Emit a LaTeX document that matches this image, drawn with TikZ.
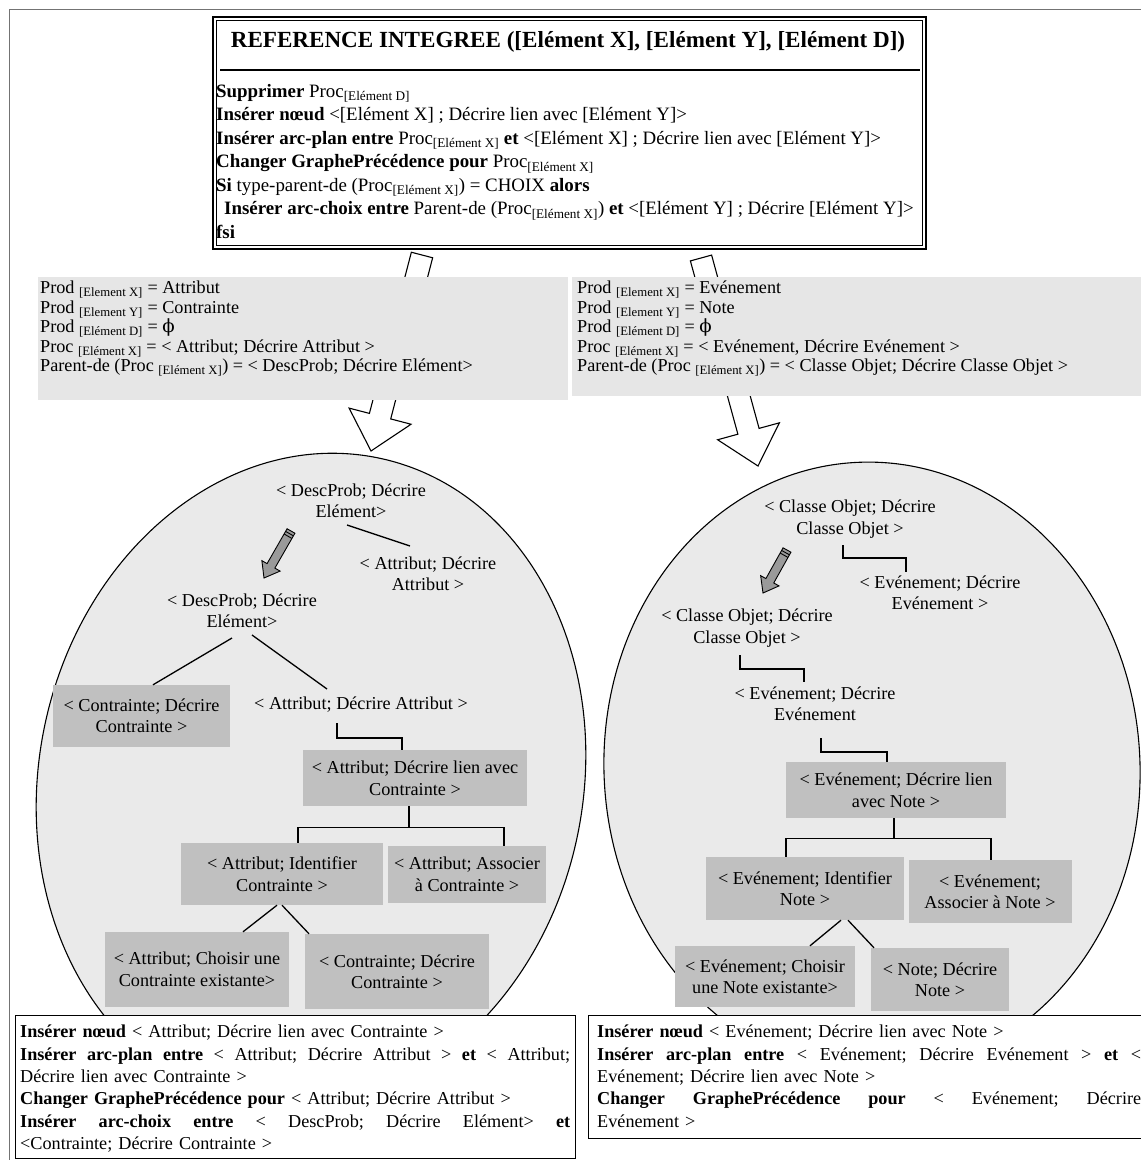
\documentclass[tikz,border=0pt]{standalone}
\usepackage{fontspec}
\setmainfont{Liberation Serif}
\newfontfamily\phifont{DejaVu Serif}
\usetikzlibrary{calc}
\definecolor{ellgray}{HTML}{EAEAEA}
\definecolor{descgray}{HTML}{E6E6E6}
\definecolor{boxgray}{HTML}{C0C0C0}
\definecolor{pencilgray}{HTML}{9A9A9A}
\newcommand\sbs[1]{\textsubscript{#1}}
\newcommand\phisym{{\phifont ϕ}}
\newcommand\jline[2]{\leavevmode\hbox to #1{#2}}
\newcommand\hollowarrow[2]{%
  \coordinate (hh) at ($(#2)!36pt!(#1)$);
  \draw[line width=1.1, fill=white, line join=miter]
    ($(#1)!11pt!90:(#2)$) -- ($(hh)!11pt!90:(#2)$) -- ($(hh)!32pt!90:(#2)$) -- (#2)
    -- ($(hh)!32pt!-90:(#2)$) -- ($(hh)!11pt!-90:(#2)$) -- ($(#1)!11pt!-90:(#2)$) -- cycle;}
\newcommand\pencilarrow[2]{%
  \coordinate (ph) at ($(#2)!14pt!(#1)$);
  \draw[line width=0.9, fill=pencilgray, line join=miter]
    ($(#1)!4.5pt!90:(#2)$) -- ($(ph)!4.5pt!90:(#2)$) -- ($(ph)!10.5pt!90:(#2)$) -- (#2)
    -- ($(ph)!10.5pt!-90:(#2)$) -- ($(ph)!4.5pt!-90:(#2)$) -- ($(#1)!4.5pt!-90:(#2)$) -- cycle;
  \coordinate (ps1) at ($(#1)!3pt!(#2)$);
  \coordinate (ps2) at ($(#1)!6pt!(#2)$);
  \draw[line width=0.9] ($(ps1)!4.5pt!90:(#2)$) -- ($(ps1)!4.5pt!-90:(#2)$);
  \draw[line width=0.9] ($(ps2)!4.5pt!90:(#2)$) -- ($(ps2)!4.5pt!-90:(#2)$);}
\begin{document}
\begin{tikzpicture}[x=1pt, y=1pt,
  font=\fontsize{18.2}{21.5}\selectfont,
  tl/.style={align=center, inner sep=0pt},
  tb/.style={fill=boxgray, align=center, inner sep=0pt},
  conn/.style={line width=1.3, line join=miter}]
\useasboundingbox (0,0) rectangle (1141,-1160);
\clip (0,0) rectangle (1141,-1160);

% outer frame
\draw[line width=1, black!55] (9,-1170) -- (9,-9) -- (1150,-9);

% big hollow arrows (behind the boxes)
\coordinate (T1) at (422,-255); \coordinate (P1) at (371,-451);
\coordinate (T2) at (701,-258); \coordinate (P2) at (758,-466);
\hollowarrow{T1}{P1}
\hollowarrow{T2}{P2}

% description boxes
\node[fill=descgray, minimum width=530, minimum height=123, anchor=north west, inner sep=0] (dl) at (38,-277) {};
\node[anchor=north west, align=left, inner sep=0, font=\fontsize{18.2}{19.5}\selectfont] (dlt) at (40,-281) {%
Prod \sbs{[Element X]} = Attribut\\
Prod \sbs{[Element Y]} = Contrainte\\
Prod \sbs{[Elément D]} = \phisym\\
Proc \sbs{[Elément X]} = < Attribut; Décrire Attribut >\\
Parent-de (Proc \sbs{[Elément X]}) = < DescProb; Décrire Elément>};
\node[fill=descgray, minimum width=580, minimum height=119, anchor=north west, inner sep=0] (dr) at (572,-277) {};
\node[anchor=north west, align=left, inner sep=0, font=\fontsize{18.2}{19.5}\selectfont] (drt) at (577,-281) {%
Prod \sbs{[Element X]} = Evénement\\
Prod \sbs{[Element Y]} = Note\\
Prod \sbs{[Elément D]} = \phisym\\
Proc \sbs{[Elément X]} = < Evénement, Décrire Evénement >\\
Parent-de (Proc \sbs{[Elément X]}) = < Classe Objet; Décrire Classe Objet >};

% top box
\node[draw, line width=2.2, fill=white, minimum width=713, minimum height=232, anchor=north west, inner sep=0] (top) at (212,-16) {};
\draw[line width=1.1] ($(top.north west)+(4.5,-4.5)$) rectangle ($(top.south east)+(-4.5,4.5)$);
\node[font=\fontsize{23.1}{26}\selectfont\bfseries, inner sep=0] (title) at (568,-42) {REFERENCE INTEGREE ([Elément X], [Elément Y], [Elément D])};
\draw[line width=1.1] ($(top.north west)+(8,-54)$) -- ($(top.north east)+(-7,-54)$);
\node[anchor=north west, align=left, inner sep=0, font=\fontsize{18.9}{23.5}\selectfont] (topbody) at (216,-84) {%
\textbf{Supprimer} Proc\sbs{[Elément D]}\\
\textbf{Insérer nœud} <[Elément X] ; Décrire lien avec [Elément Y]>\\
\textbf{Insérer arc-plan entre} Proc\sbs{[Elément X]} \textbf{et} <[Elément X] ; Décrire lien avec [Elément Y]>\\
\textbf{Changer GraphePrécédence pour} Proc\sbs{[Elément X]}\\
\textbf{Si} type-parent-de (Proc\sbs{[Elément X]}) = CHOIX \textbf{alors}\\
\hspace*{8pt}\textbf{Insérer arc-choix entre} Parent-de (Proc\sbs{[Elément X]}) \textbf{et} <[Elément Y] ; Décrire [Elément Y]>\\
\textbf{fsi}};

% ellipses
\draw[fill=ellgray, line width=1.1, rotate around={-12:(311,-781)}] (311,-781) ellipse [x radius=272pt, y radius=330pt];
\draw[fill=ellgray, line width=1.1, rotate around={3:(872,-768)}] (872,-768) ellipse [x radius=268pt, y radius=306pt];

% left tree
\node[tl] (N1) at (351,-501) {< DescProb; Décrire\\Elément>};
\node[tl] (N2) at (428,-574) {< Attribut; Décrire\\Attribut >};
\node[tl] (N3) at (242,-611) {< DescProb; Décrire\\Elément>};
\node[tl] (N4) at (361,-705) {< Attribut; Décrire Attribut >};
\node[tb, minimum width=177, minimum height=62] (B1) at (141.5,-716) {< Contrainte; Décrire\\Contrainte >};
\node[tb, minimum width=224, minimum height=56] (B2) at (415,-778) {< Attribut; Décrire lien avec\\Contrainte >};
\node[tb, minimum width=202, minimum height=62] (B3) at (282,-874) {< Attribut; Identifier\\Contrainte >};
\node[tb, minimum width=158, minimum height=57] (B4) at (467,-874.5) {< Attribut; Associer\\à Contrainte >};
\node[tb, minimum width=184, minimum height=75] (B5) at (197,-969.5) {< Attribut; Choisir une\\Contrainte existante>};
\node[tb, minimum width=184, minimum height=75] (B6) at (397,-971.5) {< Contrainte; Décrire\\Contrainte >};
\pencilarrow{291,-531}{264,-578}

\draw[conn] ([shift={(-4,-24)}]N1.center) -- ([shift={(-18,28)}]N2.center);
\draw[conn] ([shift={(-10,-27)}]N3.center) -- ([xshift=11.5]B1.north);
\draw[conn] ([shift={(10,-24)}]N3.center) -- ([shift={(-34,16)}]N4.center);
\draw[conn] ([shift={(-24,-18)}]N4.center) -- ++(0,-15) -| ([xshift=-13]B2.north);
\draw[conn] ([xshift=-6]B2.south) -- ++(0,-21) coordinate (j1);
\draw[conn] ([xshift=16]B3.north) |- (j1) -| ([xshift=37]B4.north);
\draw[conn] ([xshift=-5]B3.south) -- ([xshift=46]B5.north);
\draw[conn] (B3.south) -- ([xshift=-88]B6.north);

% right tree
\node[tl] (R1) at (850,-519) {< Classe Objet; Décrire\\Classe Objet >};
\node[tl] (R2) at (940,-593) {< Evénement; Décrire\\Evénement >};
\node[tl] (R3) at (747,-628) {< Classe Objet; Décrire\\Classe Objet >};
\node[tl] (R4) at (815,-704) {< Evénement; Décrire\\Evénement};
\node[tb, minimum width=220, minimum height=56] (RB1) at (896,-790) {< Evénement; Décrire lien\\avec Note >};
\node[tb, minimum width=198, minimum height=63] (RB2) at (805,-888.5) {< Evénement; Identifier\\Note >};
\node[tb, minimum width=163, minimum height=63] (RB3) at (990,-891.5) {< Evénement;\\Associer à Note >};
\node[tb, minimum width=180, minimum height=61] (RB4) at (765,-976.5) {< Evénement; Choisir\\une Note existante>};
\node[tb, minimum width=138, minimum height=63] (RB5) at (940,-979.5) {< Note; Décrire\\Note >};
\pencilarrow{787,-550}{763,-593}

\draw[conn] ([shift={(-7,-26)}]R1.center) -- ++(0,-13) -| ([shift={(-34,21)}]R2.center);
\draw[conn] ([shift={(-7,-27)}]R3.center) -- ++(0,-14) -| ([shift={(-11,22)}]R4.center);
\draw[conn] ([shift={(6,-34)}]R4.center) -- ++(0,-14) -| ([xshift=-9]RB1.north);
\draw[conn] ([xshift=-2]RB1.south) -- ++(0,-20) coordinate (j2);
\draw[conn] ([xshift=-19]RB2.north) |- (j2) -| ([xshift=1]RB3.north);
\draw[conn] ([xshift=36]RB2.south) -- ([xshift=45]RB4.north);
\draw[conn] ([xshift=43]RB2.south) -- ([xshift=-66]RB5.north);

% bottom boxes
\node[draw, line width=1.1, fill=white, minimum width=560, minimum height=143, anchor=north west, inner sep=0] (bl) at (15,-1015) {};
\node[anchor=north west, align=left, inner sep=0, text width=550, font=\fontsize{18.2}{22.3}\selectfont] (blt) at (20,-1025) {%
\textbf{Insérer nœud} < Attribut; Décrire lien avec Contrainte >\\
\jline{550pt}{\textbf{Insérer}\hfill\textbf{arc-plan}\hfill\textbf{entre}\hfill<\hfill Attribut;\hfill Décrire\hfill Attribut\hfill>\hfill\textbf{et}\hfill<\hfill Attribut;}\\
Décrire lien avec Contrainte >\\
\textbf{Changer GraphePrécédence pour} < Attribut; Décrire Attribut >\\
\jline{550pt}{\textbf{Insérer}\hfill\textbf{arc-choix}\hfill\textbf{entre}\hfill<\hfill DescProb;\hfill Décrire\hfill Elément>\hfill\textbf{et}}\\
<Contrainte; Décrire Contrainte >};
\node[draw, line width=1.1, fill=white, minimum width=570, minimum height=123, anchor=north west, inner sep=0] (br) at (588,-1015) {};
\node[anchor=north west, align=left, inner sep=0, text width=544, font=\fontsize{18.2}{22.3}\selectfont] (brt) at (597,-1025) {%
\textbf{Insérer nœud} < Evénement; Décrire lien avec Note >\\
\jline{544pt}{\textbf{Insérer}\hfill\textbf{arc-plan}\hfill\textbf{entre}\hfill<\hfill Evénement;\hfill Décrire\hfill Evénement\hfill>\hfill\textbf{et}\hfill<}\\
Evénement; Décrire lien avec Note >\\
\jline{544pt}{\textbf{Changer}\hfill\textbf{GraphePrécédence}\hfill\textbf{pour}\hfill<\hfill Evénement;\hfill Décrire}\\
Evénement >};
\end{tikzpicture}
\end{document}
